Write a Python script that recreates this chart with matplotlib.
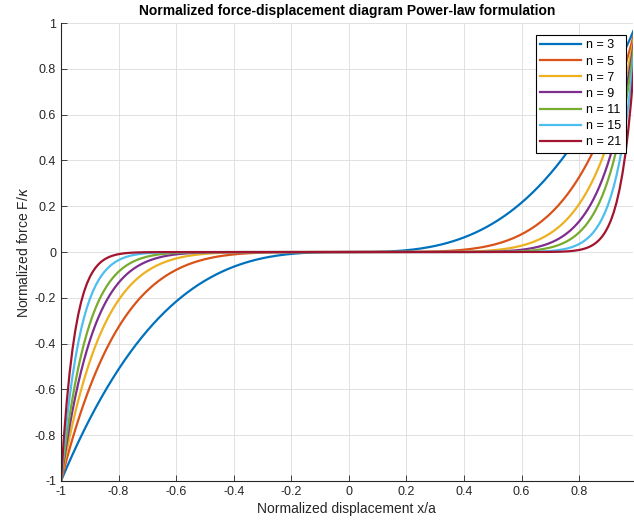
import numpy as np
import matplotlib.pyplot as plt

plt.rcParams['font.family'] = ['Liberation Sans', 'DejaVu Sans']

# exponents of the power law and their MATLAB-like colours
n_values = [3, 5, 7, 9, 11, 15, 21]
colors = ['#0072BD', '#D95319', '#EDB120', '#7E2F8E', '#77AC30', '#4DBEEE', '#A2142F']
x = np.linspace(-1, 1, 201)

xticks = [-1, -0.8, -0.6, -0.4, -0.2, 0, 0.2, 0.4, 0.6, 0.8]
yticks = [-1, -0.8, -0.6, -0.4, -0.2, 0, 0.2, 0.4, 0.6, 0.8, 1]

fig = plt.figure(figsize=(6.34, 5.26), dpi=100)
ax = fig.add_axes([0.0962, 0.0856, 0.9018, 0.8704])

for n, c in zip(n_values, colors):
    ax.plot(x, x ** n, color=c, lw=1.6, label=f'n = {n}')

ax.set_xlim(-1, 0.986)
ax.set_ylim(-1, 1)
ax.set_xticks(xticks)
ax.set_yticks(yticks)
ax.set_xticklabels([f'{t:g}' for t in xticks])
ax.set_yticklabels([f'{t:g}' for t in yticks])
ax.grid(True, color='#dcdcdc', lw=0.6)
ax.set_axisbelow(True)
for s in ['top', 'right']:
    ax.spines[s].set_visible(False)
for s in ['left', 'bottom']:
    ax.spines[s].set_color('#262626')
    ax.spines[s].set_linewidth(0.8)
ax.tick_params(direction='in', length=4, width=0.6, colors='#262626', labelsize=9)

ax.set_xlabel('Normalized displacement x/a', fontsize=10, color='#262626', labelpad=3)
ax.set_ylabel(r'Normalized force F/$\kappa$', fontsize=10, color='#262626', labelpad=3)
ax.set_title('Normalized force-displacement diagram Power-law formulation',
             fontsize=10, fontweight='bold', pad=6)

leg = ax.legend(loc='upper right', bbox_to_anchor=(0.988, 0.974), fontsize=9,
                fancybox=False, framealpha=1, edgecolor='black',
                handlelength=3.3, handletextpad=0.4, borderpad=0.35,
                labelspacing=0.33, borderaxespad=0)
leg.get_frame().set_linewidth(0.8)

fig.savefig('out.png', dpi=100)
